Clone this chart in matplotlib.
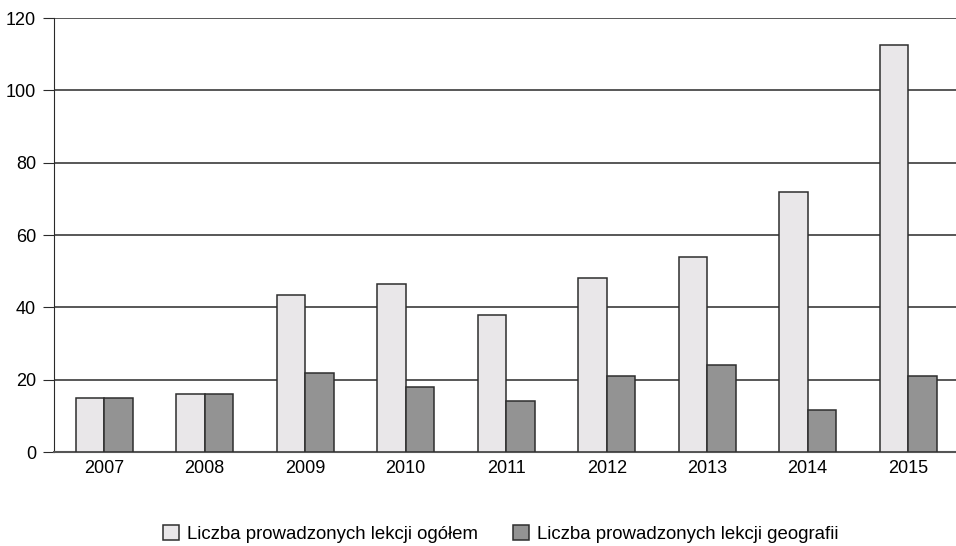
import numpy as np
import matplotlib
matplotlib.use('Agg')
import matplotlib.pyplot as plt

plt.rcParams['font.family'] = ['Liberation Sans', 'DejaVu Sans']

# dane
years = ['2007', '2008', '2009', '2010', '2011', '2012', '2013', '2014', '2015']
lekcje_ogolem = [15, 16, 43.5, 46.5, 38, 48, 54, 72, 112.5]
lekcje_geografii = [15, 16, 22, 18, 14, 21, 24, 11.5, 21]
y_ticks = [0, 20, 40, 60, 80, 100, 120]

fig = plt.figure(figsize=(9.56, 5.46), dpi=100)
ax = fig.add_axes([0.0565, 0.172, 0.946, 0.795])

x = np.arange(len(years))
w = 0.283
ax.bar(x - w / 2, lekcje_ogolem, width=w, color='#e9e7e9', edgecolor='#2e2e2e',
       linewidth=1.1, zorder=3, label='Liczba prowadzonych lekcji ogółem')
ax.bar(x + w / 2, lekcje_geografii, width=w, color='#939393', edgecolor='#2e2e2e',
       linewidth=1.1, zorder=3, label='Liczba prowadzonych lekcji geografii')

ax.set_xlim(-0.5, len(years) - 0.5)
ax.set_ylim(0, 120)
ax.set_yticks(y_ticks)
ax.set_xticks(x)
ax.set_xticklabels(years)
ax.grid(axis='y', color='#2a2a2a', linewidth=1.1, zorder=0)

for s in ['top', 'right']:
    ax.spines[s].set_visible(False)
ax.spines['left'].set_color('#2a2a2a')
ax.spines['bottom'].set_color('#555555')
ax.spines['bottom'].set_linewidth(1.5)
ax.tick_params(axis='y', length=8, color='#2a2a2a', labelsize=13, pad=5)
ax.tick_params(axis='x', length=0, labelsize=13, pad=6)

fig.legend(loc='center', bbox_to_anchor=(0.5235, 0.022), ncol=2, frameon=False,
           fontsize=13.4, handlelength=0.86, handleheight=0.86, columnspacing=1.88,
           handletextpad=0.43)

fig.savefig('out.png', dpi=100)
plt.close(fig)
